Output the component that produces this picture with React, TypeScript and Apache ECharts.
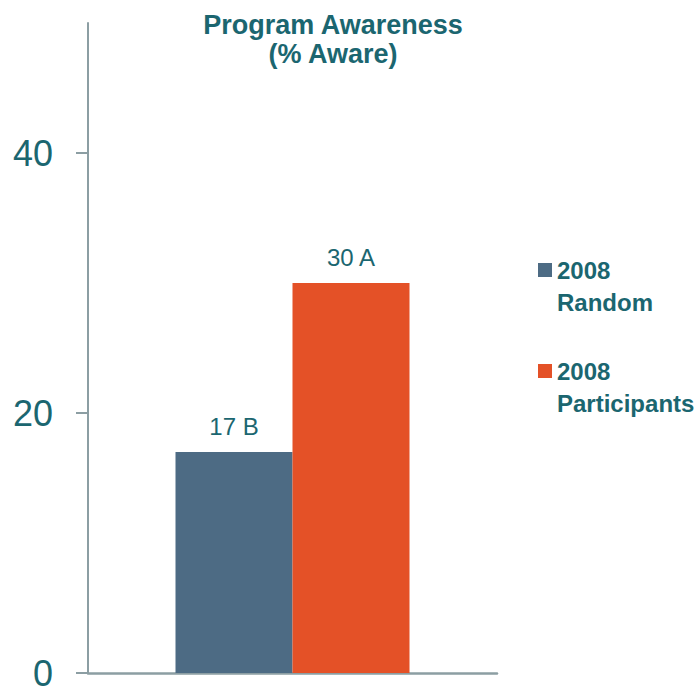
import React, { useEffect, useRef } from "react";
import * as echarts from "echarts";

const categories = [""];
const seriesNames = ["2008\nRandom", "2008\nParticipants"];
const seriesValues = [[17], [30]];
const seriesLabels = [["17 B"], ["30 A"]];
const seriesColors = ["#4d6b84", "#e45127"];
const yTicks = [0, 20, 40];

const TEAL = "#1b6670";
const AXIS = "#8c9ea3";
const FONT = "Liberation Sans, Arial, sans-serif";

export default function App() {
  const ref = useRef<HTMLDivElement>(null);
  useEffect(() => {
    document.body.style.margin = "0";
    const chart = echarts.init(ref.current!, null, { renderer: "svg" });
    chart.setOption({
      animation: false,
      title: {
        text: "Program Awareness\n(% Aware)",
        left: 328,
        top: 5,
        textAlign: "center",
        textStyle: {
          color: TEAL,
          fontFamily: FONT,
          fontSize: 27,
          fontWeight: "bold",
          lineHeight: 29,
        },
      },
      legend: {
        orient: "vertical",
        left: 538,
        top: 222,
        padding: 0,
        itemWidth: 14,
        itemHeight: 14,
        itemGap: 5,
        icon: "rect",
        data: seriesNames,
        formatter: (name: string) => "\n" + name,
        textStyle: {
          color: TEAL,
          fontFamily: FONT,
          fontSize: 24,
          fontWeight: "bold",
          lineHeight: 32,
        },
      },
      grid: { left: 88, right: 203, top: 23, bottom: 13, outerBoundsMode: "none" },
      xAxis: {
        type: "category",
        data: categories,
        axisLine: { lineStyle: { color: AXIS, width: 2.5 } },
        axisTick: { show: false },
        axisLabel: { show: false },
      },
      yAxis: {
        type: "value",
        min: 0,
        max: 50,
        splitLine: { show: false },
        axisLine: { show: true, lineStyle: { color: AXIS, width: 2 } },
        axisTick: { show: true, length: 12, lineStyle: { color: AXIS, width: 2 }, customValues: yTicks },
        axisLabel: {
          customValues: yTicks,
          margin: 35,
          color: TEAL,
          fontFamily: FONT,
          fontSize: 36,
        },
      },
      series: seriesNames.map((name, i) => ({
        type: "bar",
        name,
        data: seriesValues[i],
        barWidth: 117,
        barGap: "0%",
        itemStyle: { color: seriesColors[i] },
        label: {
          show: true,
          position: "top",
          distance: 14,
          formatter: (p: any) => seriesLabels[i][p.dataIndex],
          color: TEAL,
          fontFamily: FONT,
          fontSize: 24,
        },
      })),
    });
    return () => chart.dispose();
  }, []);
  return <div ref={ref} style={{ width: 700, height: 686 }} />;
}
